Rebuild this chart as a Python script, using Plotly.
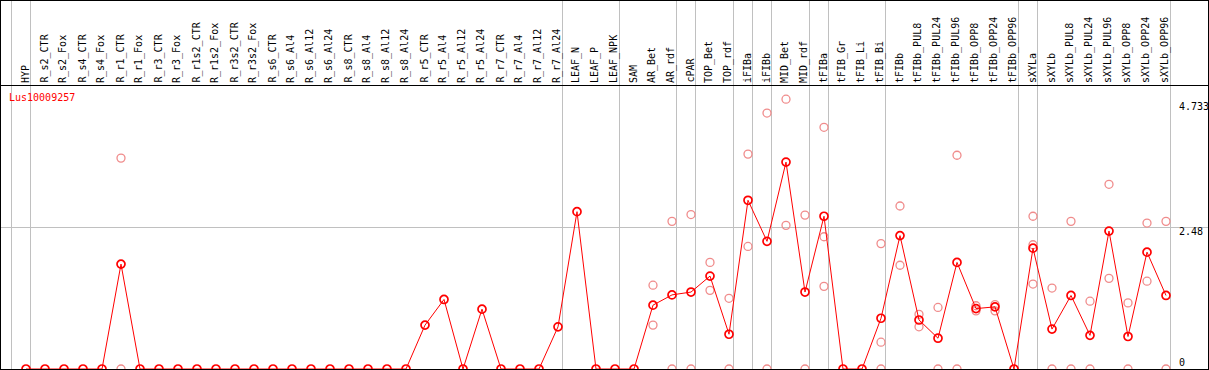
import plotly.graph_objects as go

title = "Lus10009257"
categories = [
    "HYP", "R_s2_CTR", "R_s2_Fox", "R_s4_CTR", "R_s4_Fox", "R_r1_CTR", "R_r1_Fox",
    "R_r3_CTR", "R_r3_Fox", "R_r1s2_CTR", "R_r1s2_Fox", "R_r3s2_CTR", "R_r3s2_Fox",
    "R_s6_CTR", "R_s6_Al4", "R_s6_Al12", "R_s6_Al24", "R_s8_CTR", "R_s8_Al4",
    "R_s8_Al12", "R_s8_Al24", "R_r5_CTR", "R_r5_Al4", "R_r5_Al12", "R_r5_Al24",
    "R_r7_CTR", "R_r7_Al4", "R_r7_Al12", "R_r7_Al24", "LEAF_N", "LEAF_P", "LEAF_NPK",
    "SAM", "AR_Bet", "AR_rdf", "cPAR", "TOP_Bet", "TOP_rdf", "iFIBa", "iFIBb",
    "MID_Bet", "MID_rdf", "tFIBa", "tFIB_Gr", "tFIB_Li", "tFIB_Bi", "tFIBb",
    "tFIBb_PUL8", "tFIBb_PUL24", "tFIBb_PUL96", "tFIBb_OPP8", "tFIBb_OPP24",
    "tFIBb_OPP96", "sXYLa", "sXYLb", "sXYLb_PUL8", "sXYLb_PUL24", "sXYLb_PUL96",
    "sXYLb_OPP8", "sXYLb_OPP24", "sXYLb_OPP96",
]

mean_values = [
    0, 0, 0, 0, 0, 1.84, 0,
    0, 0, 0, 0, 0, 0,
    0, 0, 0, 0, 0, 0,
    0, 0, 0.77, 1.22, 0, 1.05,
    0, 0, 0, 0.74, 2.76, 0, 0,
    0, 1.12, 1.30, 1.35, 1.63, 0.61, 2.96, 2.24,
    3.63, 1.35, 2.68, 0, 0, 0.89, 2.34,
    0.86, 0.54, 1.87, 1.06, 1.09,
    0, 2.12, 0.70, 1.29, 0.59, 2.42,
    0.57, 2.05, 1.29,
]

N = None
rep1 = [
    N, N, N, N, N, 3.70, N,
    N, N, N, N, N, N,
    N, N, N, N, N, N,
    N, N, N, N, N, N,
    N, N, N, N, N, N, N,
    N, 1.47, 2.59, 2.71, 1.87, 1.24, 3.77, 4.49,
    4.733, 2.70, 4.24, N, N, 2.20, 2.86,
    0.96, 1.08, 3.75, 1.11, 1.13,
    N, 2.68, 1.42, 2.59, 1.19, 3.24,
    1.16, 2.56, 2.59,
]
rep2 = [
    N, N, N, N, N, 0, N,
    N, N, N, N, N, N,
    N, N, N, N, N, N,
    N, N, N, N, N, N,
    N, N, N, N, N, N, N,
    N, 0.77, 0, 0, 1.38, 0, 2.15, 0,
    2.52, 0, 2.32, N, N, 0.47, 1.82,
    0.74, 0, 0, 1.02, 1.02,
    N, 2.18, 0, 0, 0, 1.59,
    0, 1.54, 0,
]
rep3 = [
    N, N, N, N, N, N, N,
    N, N, N, N, N, N,
    N, N, N, N, N, N,
    N, N, N, N, N, N,
    N, N, N, N, N, N, N,
    N, N, N, N, N, N, N, N,
    N, N, 1.45, N, N, 0, N,
    N, N, N, N, N,
    N, 1.49, N, N, N, N,
    N, N, N,
]

# group separators (drawn just right of these category indices)
separator_after = [-1, 0, 28, 31, 34, 35, 37, 38, 39, 41, 42, 45, 52, 53, 60]
y_ticks = [0, 2.48, 4.733]
y_tick_labels = ["0", "2.48", "4.733"]

W, H = 1209, 370
header_px = 85
px_per_cat = 19
first_px = 26
px_per_unit = 57

x_idx = list(range(len(categories)))
x0 = -first_px / px_per_cat
x1 = x0 + W / px_per_cat
y_top = (H - 1 - header_px) / px_per_unit
y_bot = -1 / px_per_unit

rx, ry = [], []
for reps in (rep1, rep2, rep3):
    for i, v in enumerate(reps):
        if v is not None:
            rx.append(i)
            ry.append(v)

font_mono = "DejaVu Sans Mono"

fig = go.Figure()
fig.add_trace(go.Scatter(
    x=rx, y=ry, mode="markers",
    marker=dict(symbol="circle-open", size=8, color="#f08c8c", line=dict(width=1.3, color="#f08c8c")),
    hoverinfo="skip",
))
fig.add_trace(go.Scatter(
    x=x_idx, y=mean_values, mode="lines+markers",
    line=dict(color="#ff0000", width=1),
    marker=dict(symbol="circle-open", size=8, color="#ff0000", line=dict(width=1.7, color="#ff0000")),
    hoverinfo="skip",
))

shapes = []
sep_off = 4.5 / px_per_cat
for s in separator_after:
    shapes.append(dict(type="line", xref="x", yref="paper", x0=s + sep_off, x1=s + sep_off,
                       y0=0, y1=1, line=dict(color="#c0c0c0", width=1), layer="below"))
# frame
def py(p):
    return 1 - p / H
def pxp(p):
    return p / W
black = dict(color="#000000", width=1)
shapes += [
    dict(type="line", xref="paper", yref="paper", x0=0, x1=1, y0=py(0.5), y1=py(0.5), line=black),
    dict(type="line", xref="paper", yref="paper", x0=0, x1=1, y0=py(header_px + 0.5), y1=py(header_px + 0.5), line=black),
    dict(type="line", xref="paper", yref="paper", x0=0, x1=1, y0=py(H - 0.5), y1=py(H - 0.5), line=black),
    dict(type="line", xref="paper", yref="paper", x0=pxp(0.5), x1=pxp(0.5), y0=0, y1=1, line=black),
    dict(type="line", xref="paper", yref="paper", x0=pxp(W - 0.5), x1=pxp(W - 0.5), y0=0, y1=1, line=black),
]

annotations = []
for i, c in enumerate(categories):
    annotations.append(dict(
        x=i, xref="x", y=py(header_px - 2), yref="paper", text=c, showarrow=False,
        textangle=-90, xanchor="center", yanchor="bottom", xshift=-1,
        font=dict(family=font_mono, size=10, color="#000000"),
        borderpad=0, borderwidth=0,
    ))
annotations.append(dict(
    x=pxp(9), xref="paper", y=py(97), yref="paper", text=title, showarrow=False,
    xanchor="left", yanchor="middle", font=dict(family=font_mono, size=10, color="#ff0000"),
    borderpad=0, borderwidth=0,
))
shifts = {"0": 7, "2.48": -4, "4.733": -7}
for v, t in zip(y_ticks, y_tick_labels):
    annotations.append(dict(
        x=pxp(1179), xref="paper", y=v, yref="y", text=t, showarrow=False,
        xanchor="left", yanchor="middle", yshift=shifts[t],
        font=dict(family=font_mono, size=10, color="#000000"),
        borderpad=0, borderwidth=0,
    ))

fig.update_layout(
    width=W, height=H,
    margin=dict(l=0, r=0, t=0, b=0, pad=0),
    paper_bgcolor="#ffffff", plot_bgcolor="rgba(0,0,0,0)",
    showlegend=False,
    xaxis=dict(range=[x0, x1], visible=False, showgrid=False, zeroline=False),
    yaxis=dict(range=[y_bot, y_top], domain=[0, (H - header_px) / H], showgrid=True,
               gridcolor="#c0c0c0", gridwidth=1, tickvals=[2.48], showticklabels=False,
               zeroline=False, ticks=""),
    shapes=shapes,
    annotations=annotations,
)

fig.write_html(
    "out.html",
    config={"displayModeBar": False},
    post_script="document.body.style.margin='0';document.body.style.overflow='hidden';",
)
